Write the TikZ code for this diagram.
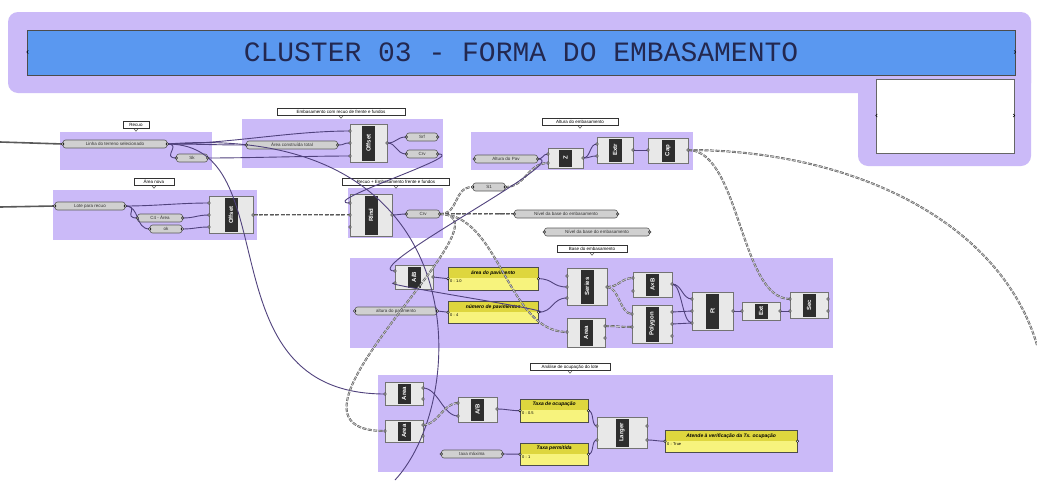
\documentclass[tikz,border=0pt]{standalone}
\usepackage{fontspec}
\setmainfont{Liberation Sans}
\newfontfamily\titlefont{Liberation Mono}
\usetikzlibrary{calc}

\definecolor{grpc}{RGB}{203,186,248}
\definecolor{bluec}{RGB}{90,152,240}
\definecolor{titlec}{RGB}{35,40,80}
\definecolor{wirec}{RGB}{80,66,125}
\definecolor{prmc}{RGB}{208,208,208}
\definecolor{yhead}{RGB}{222,214,62}
\definecolor{ybody}{RGB}{247,243,125}

\tikzset{
  grp/.style={fill=grpc, draw=none},
  glabel/.style={draw=black!80, fill=white, font=\fontsize{4.5}{5}\selectfont, inner sep=0.8pt, minimum height=7pt, line width=0.5pt},
  prm/.style={rounded corners=2.5pt, fill=prmc, draw=black!65, line width=0.6pt, font=\fontsize{4.5}{5}\selectfont, minimum height=8pt, inner sep=0.5pt, text=black!80},
  compbox/.style={fill=gray!18, draw=black!55, line width=0.6pt, inner sep=0pt},
  compstrip/.style={fill=black!82, draw=none, inner sep=0pt, minimum width=13pt, text=white, font=\bfseries\fontsize{6}{6}\selectfont},
  ybox/.style={fill=ybody, draw=none, inner sep=0pt},
  yhd/.style={fill=yhead, draw=none, inner sep=0pt, minimum height=11pt, font=\bfseries\itshape\fontsize{5}{5}\selectfont},
  wire/.style={draw=wirec, line width=0.9pt},
  lwire/.style={draw=black!65, line width=0.6pt, double=gray!45, double distance=0.8pt, dash pattern=on 4pt off 1.5pt},
  fwire/.style={draw=black!65, line width=1.6pt},
  port/.style={fill=white, draw=black, line width=0.4pt},
}

% Grasshopper component: name, cx, cy, width, height, label
\newcommand\gcomp[6]{%
  \node[compbox, minimum width=#4pt, minimum height=#5pt] (#1) at (#2,#3) {};
  \node[compstrip, minimum height=#5pt-3pt] at (#1.center) {\rotatebox{90}{#6}};
}
% yellow panel: name, left, top, width, height, header, body
\newcommand\ypanel[7]{%
  \node[ybox, minimum width=#4pt, minimum height=#5pt, anchor=north west] (#1) at (#2,#3) {};
  \node[yhd, minimum width=#4pt, anchor=north] at (#1.north) {#6};
  \node[font=\fontsize{4}{4}\selectfont, anchor=north west, inner sep=1pt] at ($(#1.north west)+(1,12)$) {#7};
  \draw[black!70, line width=0.6pt] (#1.north west) rectangle (#1.south east);
}
% group label with pointer
\newcommand\glab[5]{%
  \node[glabel, minimum width=#4pt] (#1) at (#2,#3) {#5};
  \draw[black!80, line width=0.4pt] ($(#1.south)+(-2,0)$) -- ($(#1.south)+(0,2.5)$) -- ($(#1.south)+(2,0)$);
}
% wire between two points with horizontal tangents
\newcommand\wc[4][wire]{\draw[#1] (#2) .. controls ($(#2)+(#4,0)$) and ($(#3)-(#4,0)$) .. (#3);}

\begin{document}
\begin{tikzpicture}[x=1pt, y=-1pt]
\useasboundingbox (0,0) rectangle (1037,480);
\fill[white] (0,0) rectangle (1037,480);

% ---------- cluster header ----------
\fill[grpc, rounded corners=10pt] (8,12) rectangle (1031,93);
\fill[grpc, rounded corners=10pt] (858,60) rectangle (1031,166);
\node[draw=black!70, fill=bluec, minimum width=988pt, minimum height=45pt, inner sep=0pt, text=titlec,
      font=\titlefont\fontsize{28}{28}\selectfont] (title) at (521,52.5) {CLUSTER 03 - FORMA DO EMBASAMENTO};
\node[draw=black!60, fill=white, minimum width=138pt, minimum height=74pt, inner sep=0pt] (outbox) at (945,116) {};
\draw[black, line width=0.6pt] ($(title.west)+(1.5,-2)$) arc (90:270:1.5pt);
\draw[black, line width=0.6pt] ($(title.east)+(-1,-2)$) arc (90:-90:1.5pt);
\draw[black, line width=0.6pt] ($(outbox.west)+(1.5,-2)$) arc (90:270:1.5pt);
\draw[black, line width=0.6pt] ($(outbox.east)+(-1,-2)$) arc (90:-90:1.5pt);

% ---------- groups ----------
\fill[grp] (60,132) rectangle (212,170);
\fill[grp] (53,190) rectangle (257,240);
\fill[grp] (242,119) rectangle (443,168);
\fill[grp] (348,188) rectangle (443,238);
\fill[grp] (471,132) rectangle (693,170);
\fill[grp] (350,258) rectangle (833,348);
\fill[grp] (378,375) rectangle (833,472);

\glab{gl1}{136}{125}{26}{Recuo}
\glab{gl2}{154}{182}{40}{Área nova}
\glab{gl3}{341}{112}{128}{Embasamento com recuo de frente e fundos}
\glab{gl4}{396}{182}{107}{Recuo + Embasamento frente e fundos}
\glab{gl5}{580}{122}{76}{Altura do embasamento}
\glab{gl6}{592}{249}{70}{Base do embasamento}
\glab{gl7}{570}{367}{80}{Análise de ocupação do lote}

% ---------- parameters ----------
\node[prm, minimum width=104pt] (p1) at (115,144) {Linha do terreno selecionado};
\node[prm, minimum width=31pt] (p2) at (192,158) {Sk};
\node[prm, minimum width=70pt] (p3) at (90,206) {Lote para recuo};
\node[prm, minimum width=45pt] (p4) at (160,218) {C4 - Área};
\node[prm, minimum width=32pt] (p5) at (166,229) {ok};
\node[prm, minimum width=91pt] (p6) at (292,145) {Área construída total};
\node[prm, minimum width=31pt] (p7) at (422,137) {Srf};
\node[prm, minimum width=31pt] (p8) at (422,154) {Crv};
\node[prm, minimum width=33pt] (p9) at (423,214) {Crv};
\node[prm, minimum width=32pt] (p10) at (489,187) {S1};
\node[prm, minimum width=103pt] (p11) at (566,214) {Nível da base do embasamento};
\node[prm, minimum width=105pt] (p12) at (597,232) {Nível da base do embasamento};
\node[prm, minimum width=63pt] (p13) at (506,159) {Altura do Pav};
\node[prm, minimum width=82pt] (p14) at (396,311) {altura do pavimento};
\node[prm, minimum width=61pt] (p15) at (472,454) {taxa máxima};

% ---------- components ----------
\gcomp{c1}{231}{215}{44}{37}{Offset}
\gcomp{c2}{368.5}{143}{37}{38}{Offset}
\gcomp{c3}{371}{215}{42}{42}{Rlnd}
\gcomp{c4}{565.5}{158}{35}{20}{Z}
\gcomp{c5}{615}{150}{36}{26}{Extr}
\gcomp{c6}{668}{150.5}{40}{25}{Cap}
\gcomp{c7}{414}{277}{38}{24}{A/B}
\gcomp{c8}{587}{286.5}{40}{37}{Series}
\gcomp{c9}{652.5}{284.5}{39}{25}{A×B}
\gcomp{c10}{586}{332.5}{38}{29}{Area}
\gcomp{c11}{652}{324}{40}{38}{Polygon}
\gcomp{c12}{712.5}{311}{41}{38}{Ft}
\gcomp{c13}{761}{311}{38}{18}{Ext}
\gcomp{c14}{809}{305}{38}{26}{Sec}
\gcomp{c15}{404}{393.5}{38}{23}{Area}
\gcomp{c16}{404}{431}{38}{22}{Area}
\gcomp{c17}{477.5}{409.5}{39}{25}{A/B}
\gcomp{c18}{622}{432.5}{50}{31}{Larger}

% ---------- panels ----------
\ypanel{y1}{448}{267}{90}{23}{área do pavimento}{0 : 1.0}
\ypanel{y2}{448}{301}{90}{22}{número de pavimentos}{0 : 4}
\ypanel{y3}{520}{399}{68}{23}{Taxa de ocupação}{0 : 0.5}
\ypanel{y4}{520}{443}{68}{22}{Taxa permitida}{0 : 1}
\ypanel{y5}{665}{430}{132}{22}{Atende à verificação da Tx. ocupação}{0 : True}

% ---------- ports ----------
\coordinate (c1i1) at (209,203); \coordinate (c1i2) at (209,215); \coordinate (c1i3) at (209,227); \coordinate (c1o) at (253,215);
\coordinate (c2i1) at (350,131); \coordinate (c2i2) at (350,143); \coordinate (c2i3) at (350,156); \coordinate (c2o) at (387,143);
\coordinate (c3i1) at (350,203); \coordinate (c3i2) at (350,215); \coordinate (c3i3) at (350,227); \coordinate (c3o) at (392,215);
\coordinate (c4i1) at (548,154); \coordinate (c4i2) at (548,163); \coordinate (c4o) at (583,158);
\coordinate (c5i1) at (597,144); \coordinate (c5i2) at (597,156); \coordinate (c5o) at (633,150);
\coordinate (c6i) at (648,150); \coordinate (c6o) at (688,150);
\coordinate (c7i1) at (395,271); \coordinate (c7i2) at (395,283); \coordinate (c7o) at (433,277);
\coordinate (c8i1) at (567,276); \coordinate (c8i2) at (567,287); \coordinate (c8i3) at (567,298); \coordinate (c8o) at (607,287);
\coordinate (c9i1) at (633,278); \coordinate (c9i2) at (633,291); \coordinate (c9o) at (672,284);
\coordinate (c10i) at (567,332); \coordinate (c10o1) at (605,326); \coordinate (c10o2) at (605,338);
\coordinate (c11i1) at (632,314); \coordinate (c11i2) at (632,327); \coordinate (c11o1) at (672,312); \coordinate (c11o2) at (672,324); \coordinate (c11o3) at (672,336);
\coordinate (c12i1) at (692,299); \coordinate (c12i2) at (692,311); \coordinate (c12i3) at (692,323); \coordinate (c12o) at (733,311);
\coordinate (c13i) at (742,311); \coordinate (c13o) at (780,311);
\coordinate (c14i1) at (790,299); \coordinate (c14i2) at (790,311); \coordinate (c14o1) at (828,299); \coordinate (c14o2) at (828,311);
\coordinate (c15i) at (385,394); \coordinate (c15o1) at (423,388); \coordinate (c15o2) at (423,399);
\coordinate (c16i) at (385,431); \coordinate (c16o1) at (423,425); \coordinate (c16o2) at (423,436);
\coordinate (c17i1) at (458,403); \coordinate (c17i2) at (458,416); \coordinate (c17o) at (497,409);
\coordinate (c18i1) at (597,426); \coordinate (c18i2) at (597,440); \coordinate (c18o1) at (647,426); \coordinate (c18o2) at (647,440);
% free wire ends at the border
\coordinate (inA) at (0,142); \coordinate (inB) at (0,207);
\coordinate (exitB) at (395,480); \coordinate (exitR) at (1037,345);

% ---------- wires ----------
\draw[fwire] (inA) -- (p1.west);
\draw[fwire] (inB) -- (p3.west);

\wc{p1.east}{p2.west}{15}
\wc{p1.east}{c2i1}{60}
\wc{p1.east}{p6.west}{30}
\wc{p2.east}{c2i3}{40}
\wc{p6.east}{c2i2}{8}
\draw[wire] (p1.east) .. controls (290,144) and (200,394) .. (c15i);
\draw[wire] (p1.east) .. controls (480,120) and (470,400) .. (exitB);

\wc{p3.east}{c1i1}{30}
\wc{p3.east}{p4.west}{15}
\wc{p3.east}{p5.west}{15}
\wc{p4.east}{c1i2}{12}
\wc{p5.east}{c1i3}{12}
\wc[lwire]{c1o}{c3i2}{40}

\wc{c2o}{p7.west}{10}
\wc{c2o}{p8.west}{10}
\draw[wire] (p8.east) .. controls (470,154) and (315,203) .. (c3i1);
\wc{c3o}{p9.west}{6}

\wc[lwire]{p9.east}{p11.west}{30}
\wc[lwire]{p9.east}{p10.west}{20}
\draw[lwire] (p9.east) .. controls (500,214) and (507,332) .. (c10i);
\draw[lwire] (p9.east) .. controls (520,214) and (250,431) .. (c16i);
\wc[lwire]{p10.east}{c4i2}{20}

\wc{p13.east}{c4i1}{6}
\draw[wire] (p13.east) .. controls (575,159) and (355,271) .. (c7i1);
\wc{c4o}{c5i1}{8}
\wc{c4o}{c5i2}{8}
\wc{c5o}{c6i}{8}
\draw[lwire] (c6o) .. controls (740,150) and (740,299) .. (c14i1);
\draw[lwire] (c6o) .. controls (850,150) and (1000,220) .. (exitR);

\wc{c7o}{y1.west}{8}
\wc{y1.east}{c8i2}{15}
\wc{p14.east}{y2.west}{6}
\wc{y2.east}{c8i3}{15}
\draw[wire] (y2.east) .. controls (565,312) and (370,283) .. (c7i2);
\wc[lwire]{c8o}{c9i1}{12}
\wc[lwire]{c8o}{c11i1}{12}
\wc[lwire]{c10o1}{c11i2}{12}
\wc{c9o}{c12i1}{10}
\wc{c11o1}{c12i2}{10}
\wc{c11o2}{c12i3}{10}
\wc{c9o}{c12i3}{10}
\wc{c12o}{c13i}{5}
\wc{c13o}{c14i2}{5}

\wc{c15o1}{c17i2}{15}
\wc[lwire]{c16o1}{c17i1}{15}
\wc{c17o}{y3.west}{10}
\wc{p15.east}{y4.west}{8}
\wc{y3.east}{c18i1}{6}
\wc{y4.east}{c18i2}{6}
\wc{c18o2}{y5.west}{8}

% port grips
\foreach \n in {c1i1,c1i2,c1i3,c1o,c2i1,c2i2,c2i3,c2o,c3i1,c3i2,c3i3,c3o,c4i1,c4i2,c4o,c5i1,c5i2,c5o,c6i,c6o,
  c7i1,c7i2,c7o,c8i1,c8i2,c8i3,c8o,c9i1,c9i2,c9o,c10i,c10o1,c10o2,c11i1,c11i2,c11o1,c11o2,c11o3,
  c12i1,c12i2,c12i3,c12o,c13i,c13o,c14i1,c14i2,c14o1,c14o2,c15i,c15o1,c15o2,c16i,c16o1,c16o2,
  c17i1,c17i2,c17o,c18i1,c18i2,c18o1,c18o2}
  {\draw[port] (\n) circle (1.3pt);}
\foreach \n in {p1,p2,p3,p4,p5,p6,p7,p8,p9,p10,p11,p12,p13,p14,p15,y1,y2,y3,y4,y5}
  {\draw[port] (\n.west) circle (1.3pt); \draw[port] (\n.east) circle (1.3pt);}
\end{tikzpicture}
\end{document}
